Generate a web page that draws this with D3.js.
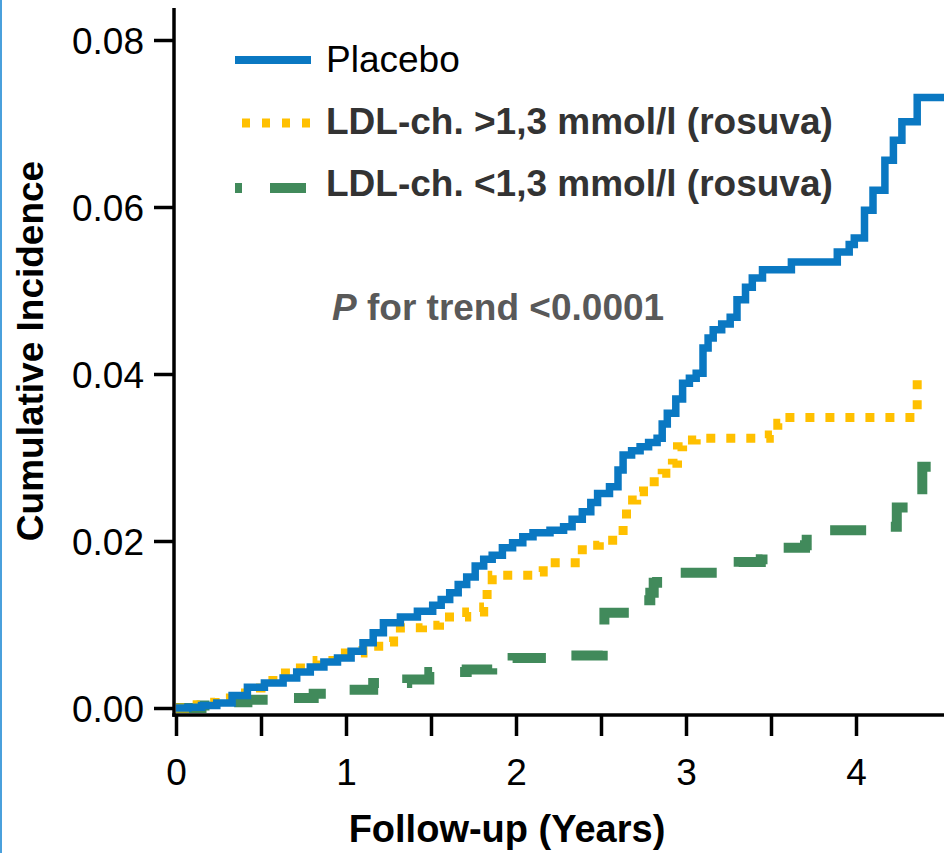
<!DOCTYPE html>
<html>
<head>
<meta charset="utf-8">
<script src="https://cdn.jsdelivr.net/npm/d3@7"></script>
<style>
  html, body { margin: 0; padding: 0; background: #fff; }
  svg { display: block; }
  text { font-family: "Liberation Sans", Arial, sans-serif; }
</style>
</head>
<body>
<svg id="chart" width="944" height="853"></svg>
<script>
// ---- data ----
const seriesNames = ["Placebo", "LDL-ch. >1,3 mmol/l (rosuva)", "LDL-ch. <1,3 mmol/l (rosuva)"];
const xTickValues = [0, 0.5, 1, 1.5, 2, 2.5, 3, 3.5, 4];
const xTickLabels = ["0", "", "1", "", "2", "", "3", "", "4"];
const yTickValues = [0, 0.02, 0.04, 0.06, 0.08];
const yTickLabels = ["0.00", "0.02", "0.04", "0.06", "0.08"];
const annotation = ["P", " for trend <0.0001"];
const xTitle = "Follow-up (Years)";
const yTitle = "Cumulative Incidence";

// [years, cumulative incidence]
const placebo = [
  [0,0],[0.07,0.0001],[0.15,0.0003],[0.24,0.0006],[0.33,0.0015],[0.42,0.0025],[0.52,0.003],
  [0.63,0.0036],[0.71,0.0043],[0.79,0.0049],[0.87,0.0055],[0.95,0.006],[1.03,0.0068],[1.10,0.0078],
  [1.16,0.009],[1.22,0.0102],[1.32,0.0109],[1.42,0.0116],[1.51,0.0123],[1.56,0.013],[1.61,0.0138],
  [1.66,0.0148],[1.71,0.0157],[1.76,0.017],[1.81,0.0178],[1.86,0.0183],[1.92,0.0192],[1.98,0.0198],
  [2.04,0.0205],[2.10,0.021],[2.20,0.0213],[2.28,0.0217],[2.33,0.0226],[2.39,0.0235],[2.44,0.0246],
  [2.48,0.0257],[2.55,0.0265],[2.60,0.0285],[2.63,0.0303],[2.68,0.0308],[2.73,0.0313],[2.78,0.0318],
  [2.83,0.0323],[2.86,0.034],[2.89,0.0353],[2.94,0.037],[2.98,0.0389],[3.02,0.0395],[3.06,0.0401],
  [3.10,0.0431],[3.13,0.0443],[3.16,0.0453],[3.21,0.046],[3.26,0.0468],[3.30,0.0489],[3.35,0.0504],
  [3.39,0.0515],[3.45,0.0525],[3.62,0.0534],[3.89,0.0546],[3.96,0.0555],[3.99,0.0563],[4.05,0.0596],
  [4.10,0.062],[4.17,0.0656],[4.22,0.068],[4.27,0.0702],[4.36,0.0731],[4.52,0.0731]
];
const ldlHigh = [
  [0,0],[0.05,0.0004],[0.14,0.0007],[0.23,0.0012],[0.32,0.0018],[0.44,0.0024],[0.50,0.0033],
  [0.57,0.0042],[0.69,0.0048],[0.76,0.0052],[0.83,0.0057],[0.95,0.0066],[1.10,0.0069],[1.16,0.0074],
  [1.22,0.0079],[1.28,0.0088],[1.32,0.0096],[1.45,0.0099],[1.55,0.0109],[1.71,0.0115],[1.81,0.0121],
  [1.83,0.0145],[1.86,0.0159],[2.01,0.0159],[2.12,0.0163],[2.16,0.0174],[2.38,0.0175],[2.39,0.0195],
  [2.49,0.0201],[2.61,0.0205],[2.63,0.0223],[2.65,0.0249],[2.71,0.0259],[2.75,0.0271],[2.86,0.0281],
  [2.92,0.0293],[2.95,0.0313],[2.98,0.0321],[3.06,0.0323],[3.49,0.0327],[3.54,0.0341],[3.57,0.0348],
  [4.36,0.0394],[4.37,0.0394]
];
const ldlLow = [
  [0,0],[0.15,0.0003],[0.30,0.0007],[0.42,0.001],[0.63,0.0012],[0.81,0.0017],[1.01,0.0022],
  [1.16,0.003],[1.36,0.0034],[1.49,0.0043],[1.71,0.0046],[1.86,0.0051],[1.98,0.006],[2.22,0.0063],
  [2.51,0.0081],[2.52,0.0114],[2.72,0.0129],[2.79,0.0138],[2.81,0.015],[2.83,0.0157],[2.96,0.0162],
  [3.31,0.0175],[3.44,0.0178],[3.45,0.0192],[3.70,0.0195],[3.71,0.0213],[4.10,0.0217],[4.24,0.024],
  [4.39,0.0289],[4.52,0.0289]
];

// ---- styles ----
const colors = ["#0a78c2", "#ffc000", "#418a5b"];
const widths = [7.5, 9, 10];
const dashes = [null, "9,11", "36,28"];

const svg = d3.select("#chart");
const font = '"Liberation Sans", Arial, sans-serif';

// left frame border
svg.append("line").attr("x1", 1).attr("x2", 1).attr("y1", 0).attr("y2", 853)
  .attr("stroke", "#4aa0dc").attr("stroke-width", 2);

const x = d3.scaleLinear().domain([0, 4]).range([176, 856]);
const y = d3.scaleLinear().domain([0, 0.08]).range([708, 40]);

const axisY0 = 715, axisX0 = 174;

// curves
const line = d3.line().x(d => x(d[0])).y(d => y(d[1])).curve(d3.curveStepAfter);
const allSeries = [ldlLow, ldlHigh, placebo];
const order = [2, 1, 0];
allSeries.forEach((s, k) => {
  const i = order[k];
  svg.append("path").datum(s)
    .attr("d", line)
    .attr("fill", "none")
    .attr("stroke", colors[i])
    .attr("stroke-width", widths[i])
    .attr("stroke-dasharray", dashes[i])
    .attr("stroke-linejoin", "miter");
});

// axes
const xAxis = d3.axisBottom(x).tickValues(xTickValues)
  .tickFormat((d, i) => xTickLabels[i]).tickSize(21).tickSizeOuter(0);
const gx = svg.append("g").attr("transform", `translate(0,${axisY0})`).call(xAxis);
gx.select(".domain").remove();
gx.selectAll(".tick line").attr("stroke", "#000").attr("stroke-width", 3.5);
gx.selectAll(".tick text").attr("y", 70).attr("dy", 0)
  .attr("font-size", 37).attr("font-family", font).attr("fill", "#000");

const yAxis = d3.axisLeft(y).tickValues(yTickValues)
  .tickFormat((d, i) => yTickLabels[i]).tickSize(20).tickPadding(10).tickSizeOuter(0);
const gy = svg.append("g").attr("transform", `translate(${axisX0},0)`).call(yAxis);
gy.select(".domain").remove();
gy.selectAll(".tick line").attr("stroke", "#000").attr("stroke-width", 3.5);
gy.selectAll(".tick text").attr("dy", "0.36em")
  .attr("font-size", 37).attr("font-family", font).attr("fill", "#000");

// axis lines
svg.append("line").attr("x1", axisX0).attr("x2", axisX0).attr("y1", 8).attr("y2", axisY0 + 1.75)
  .attr("stroke", "#000").attr("stroke-width", 3.5);
svg.append("line").attr("x1", axisX0 - 1.75).attr("x2", 944).attr("y1", axisY0).attr("y2", axisY0)
  .attr("stroke", "#000").attr("stroke-width", 3.5);

// titles
svg.append("text").attr("x", 507).attr("y", 842).attr("text-anchor", "middle")
  .attr("font-size", 38).attr("font-weight", "bold").attr("fill", "#000").text(xTitle);
svg.append("text").attr("transform", "translate(43,351) rotate(-90)").attr("text-anchor", "middle")
  .attr("font-size", 37).attr("font-weight", "bold").attr("fill", "#000").text(yTitle);

// annotation
const ann = svg.append("text").attr("x", 332).attr("y", 320)
  .attr("font-size", 37).attr("font-weight", "bold").attr("fill", "#595959");
ann.append("tspan").attr("font-style", "italic").text(annotation[0]);
ann.append("tspan").text(annotation[1]);

// legend
const legY = [60, 123, 188];
const legBase = [72, 134, 196];
seriesNames.forEach((name, i) => {
  const l = svg.append("line").attr("x1", 235).attr("x2", 311)
    .attr("y1", legY[i]).attr("y2", legY[i])
    .attr("stroke", colors[i]).attr("stroke-width", i === 0 ? 8 : widths[i]);
  if (i === 1) l.attr("x1", 242).attr("stroke-dasharray", "8,12");
  if (i === 2) l.attr("stroke-dasharray", dashes[i]).attr("stroke-dashoffset", 29);
  svg.append("text").attr("x", 326).attr("y", legBase[i])
    .attr("font-size", 37)
    .attr("font-weight", i === 0 ? "normal" : "bold")
    .attr("fill", i === 0 ? "#000" : "#333")
    .text(name);
});
</script>
</body>
</html>
